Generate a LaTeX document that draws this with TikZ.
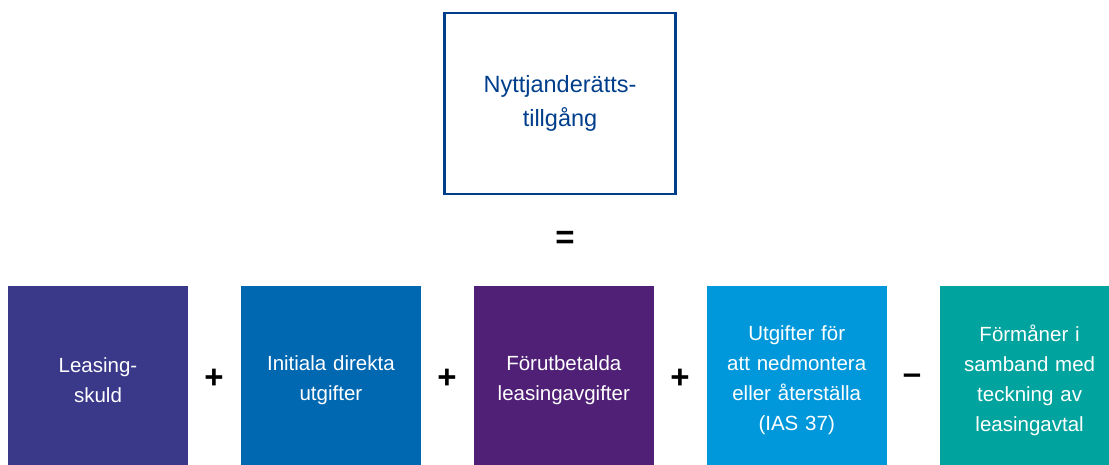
\documentclass[tikz,border=0pt]{standalone}
\usepackage{fontspec}
\setmainfont{Liberation Sans}
\usetikzlibrary{positioning}
\definecolor{assetblue}{HTML}{003E8C}
\definecolor{debtindigo}{HTML}{3A3889}
\definecolor{costblue}{HTML}{0067B1}
\definecolor{prepaidviolet}{HTML}{4F2075}
\definecolor{restoresky}{HTML}{0098DB}
\definecolor{benefitteal}{HTML}{00A39D}

\begin{document}
\begin{tikzpicture}
                [
                    x=1pt, y=-1pt,
                    node distance=52.5pt,
                    assetbox/.style={rectangle, draw=assetblue, line width=2.5pt, text=assetblue, minimum width=231pt, minimum height=181pt, align=center, font=\fontsize{23.5}{34}\selectfont},
                    sumbox/.style={rectangle, minimum width=180pt, minimum height=188pt, inner sep=0pt, text width=160pt, align=center, text=white, font=\fontsize{20.5}{30}\selectfont},
                    opsign/.style={text=black, font=\fontsize{33}{33}\selectfont\bfseries},
                ]
                \useasboundingbox (0,0) rectangle (1109,464);
                \clip (0,0) rectangle (1109,464);

                \node [assetbox] (asset) at (560,103.5) {Nyttjanderätts-\\tillgång};
                \node [opsign] (equals) at (565,240) {=};

                \node [sumbox, fill=debtindigo] (skuld) at (98,380) {Leasing-\\skuld};
                \node [sumbox, fill=costblue] (direkt) [right=of skuld] {Initiala direkta\\utgifter};
                \node [sumbox, fill=prepaidviolet] (forut) [right=of direkt] {Förutbetalda\\leasingavgifter};
                \node [sumbox, fill=restoresky] (nedmont) [right=of forut] {Utgifter för\\att nedmontera\\eller återställa\\(IAS 37)};
                \node [sumbox, fill=benefitteal] (formaner) [right=of nedmont] {Förmåner i\\samband med\\teckning av\\leasingavtal};

                \node [opsign] (plusA) at (214,379) {+};
                \node [opsign] (plusB) at (447,379) {+};
                \node [opsign] (plusC) at (680,379) {+};
                \node [opsign] (minus) at (912,379) {–};

\end{tikzpicture}
\end{document}
